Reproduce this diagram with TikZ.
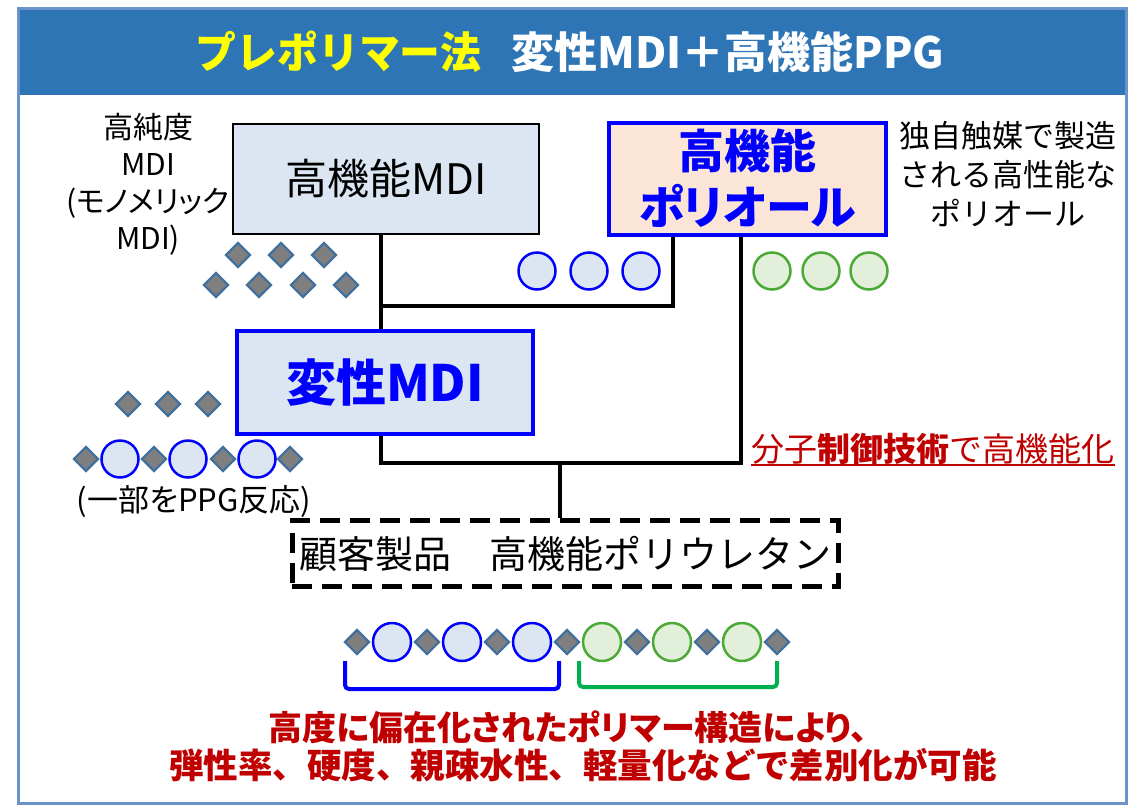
\documentclass[tikz,border=0pt]{standalone}
\usepackage{fontspec}
\setmainfont{Noto Sans CJK JP}
\newfontfamily\jpp[RawFeature=+palt]{Noto Sans CJK JP}
\usetikzlibrary{shapes.geometric}
\definecolor{titlebar}{HTML}{2E75B6}
\definecolor{frameblue}{HTML}{6A93CB}
\definecolor{lblue}{HTML}{DCE6F2}
\definecolor{peach}{HTML}{FBE5D6}
\definecolor{lgreen}{HTML}{E2EFDA}
\definecolor{cgreen}{HTML}{4AAA35}
\definecolor{bgreen}{HTML}{00B050}
\definecolor{dgray}{HTML}{7F7F7F}
\definecolor{dedge}{HTML}{41719C}
\definecolor{dred}{HTML}{C00000}
\definecolor{tyellow}{HTML}{FFFF00}
\newcommand\fsz[2]{\fontsize{#1}{#2}\selectfont}
\begin{document}
\begin{tikzpicture}[x=1pt,y=-1pt,
  conn/.style={line width=4pt},
  dia/.style={diamond, draw=dedge, fill=dgray, line width=2.2pt, minimum width=25pt, minimum height=25pt, inner sep=0pt},
  bc/.style={circle, draw=blue, fill=lblue, line width=2.5pt, minimum size=37pt, inner sep=0pt},
  gc/.style={circle, draw=cgreen, fill=lgreen, line width=2.5pt, minimum size=37pt, inner sep=0pt},
  plain/.style={align=center, inner sep=0pt}]
\useasboundingbox (0,0) rectangle (1140,806);
\fill[white] (0,0) rectangle (1140,806);
% frame and title bar
\fill[titlebar] (18,8) rectangle (1126,95);
\draw[frameblue, line width=3pt] (18,8) rectangle (1126,803);
\node[plain, font=\bfseries\fsz{43}{50}] (title) at (570,52)
  {\textcolor{tyellow}{\scalebox{0.95}[1]{プレポリマー法}}\hspace{30pt}\textcolor{white}{変性MDI＋高機能PPG}};
% boxes
\node[draw=black, line width=2.5pt, fill=lblue, minimum width=306pt, minimum height=110pt, font=\fsz{42}{48}] (mdi) at (386,179) {高機能MDI};
\node[draw=blue, line width=4pt, fill=peach, minimum width=277pt, minimum height=112pt, align=center, text=blue, font=\jpp\bfseries\fsz{46}{56}] (pol) at (747.5,178.5) {高機能\\ポリオール};
\node[draw=blue, line width=4pt, fill=lblue, minimum width=296pt, minimum height=103pt, text=blue, font=\bfseries\fsz{50}{54}] (hen) at (385,382.5) {変性MDI};
\node[draw=black, line width=5pt, dash pattern=on 20pt off 10pt, minimum width=546pt, minimum height=66pt, font=\fsz{38}{44}] (cust) at (565,553.5) {顧客製品　高機能ポリウレタン};
% side texts
\node[plain, font=\jpp\fsz{30}{37}] (lt) at (148,184) {高純度\\MDI\\(モノメリック\\MDI)};
\node[plain, font=\fsz{31}{39}] (rt) at (1008,174) {独自触媒で製造\\される高性能な\\ポリオール};
\node[plain, font=\jpp\fsz{31}{34}] (part) at (194,502) {(一部をPPG反応)};
\node[inner sep=0pt, text=dred, font=\fsz{33}{40}, anchor=base] (ctl) at (933,461) {分子{\bfseries 制御技術}で高機能化};
\draw[dred, line width=1.5pt] ([yshift=-4pt]ctl.base west) -- ([yshift=-4pt]ctl.base east);
% connectors
\coordinate (j1) at (381,306);
\coordinate (j2) at (673,306);
\coordinate (j3) at (381,463);
\coordinate (j4) at (741,463);
\coordinate (j5) at (560,463);
\draw[conn] (mdi.south -| j1) -- (hen.north -| j1);
\draw[conn] (pol.south -| j2) -- (j2) -- ([xshift=-2pt]j1);
\draw[conn] (pol.south -| j4) -- (j4) -- ([xshift=-2pt]j3);
\draw[conn] (hen.south -| j3) -- ([yshift=-2pt]j3);
\draw[conn] (j5) -- (cust.north -| j5);
% MDI monomer diamonds
\foreach \x [count=\i] in {238,281,324} \node[dia] (ma\i) at (\x,255) {};
\foreach \x [count=\i] in {216,259,303,346} \node[dia] (mb\i) at (\x,285) {};
% polyol circles
\foreach \x [count=\i] in {537,589,641} \node[bc] (pb\i) at (\x,271) {};
\foreach \x [count=\i] in {772,821,869} \node[gc] (pg\i) at (\x,271) {};
% modified MDI
\foreach \x [count=\i] in {128,168,208} \node[dia] (md\i) at (\x,404) {};
\foreach \x [count=\i] in {86,154,223,290} \node[dia] (cd\i) at (\x,459) {};
\foreach \x [count=\i] in {120,188,257} \node[bc] (cc\i) at (\x,459) {};
% product chain
\foreach \x [count=\i] in {357,427,497,567,637,707,777} \node[dia] (pd\i) at (\x,642) {};
\foreach \x [count=\i] in {392,462,532} \node[bc, minimum size=38pt] (pbc\i) at (\x,642) {};
\foreach \x [count=\i] in {602,672,742} \node[gc, minimum size=38pt] (pgc\i) at (\x,642) {};
% brackets
\draw[blue, line width=4pt, rounded corners=4pt] (345,661) -- (345,689) -- (559,689) -- (559,661);
\draw[bgreen, line width=4pt, rounded corners=4pt] (579,661) -- (579,687) -- (777,687) -- (777,661);
% bottom text
\node[plain, text=dred, font=\jpp\bfseries\fsz{34}{40}] (b1) at (568,727) {高度に偏在化されたポリマー構造により、};
\node[plain, text=dred, font=\bfseries\fsz{34.5}{40}] (b2) at (583,765) {弾性率、硬度、親疎水性、軽量化などで差別化が可能};
\end{tikzpicture}
\end{document}
